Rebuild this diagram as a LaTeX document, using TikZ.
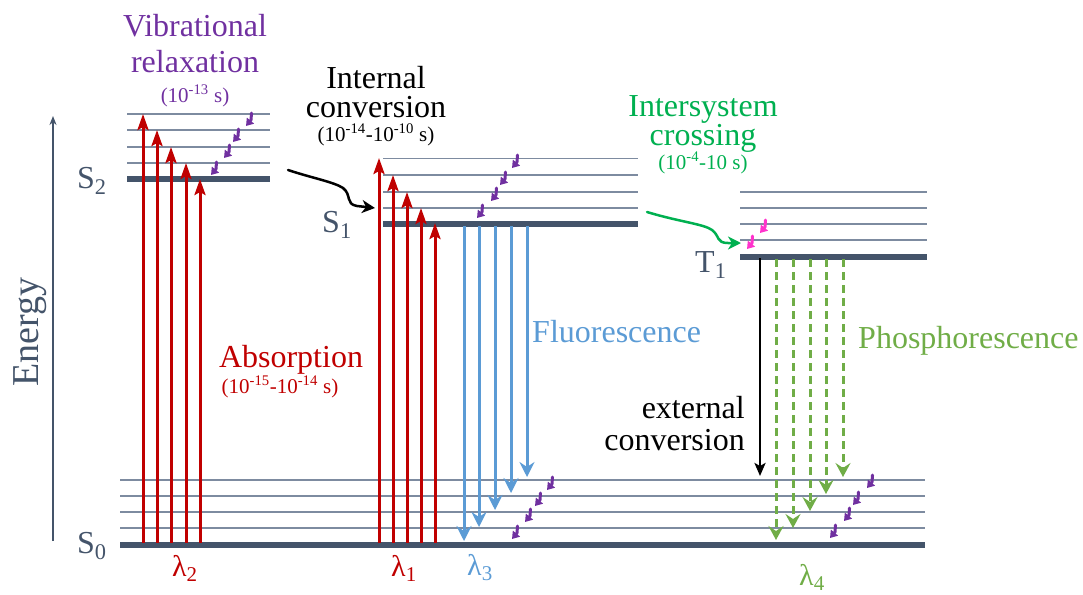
\documentclass[tikz,border=0pt]{standalone}
\usepackage{fontspec}
\setmainfont{Liberation Serif}
\newfontfamily\tnr{Liberation Serif}
\usetikzlibrary{arrows.meta}
\definecolor{lvl}{HTML}{44546A}
\definecolor{lvlthin}{HTML}{7D8BA0}
\definecolor{absred}{HTML}{C00000}
\definecolor{vibpurple}{HTML}{7030A0}
\definecolor{fluoblue}{HTML}{5B9BD5}
\definecolor{iscgreen}{HTML}{00B050}
\definecolor{phosgreen}{HTML}{70AD47}
\definecolor{pinkv}{HTML}{FF33CC}
\newcommand{\fsz}[1]{\tnr\fontsize{#1}{#1}\selectfont}
\begin{document}
\begin{tikzpicture}[x=1pt,y=-1pt,
  thicklevel/.style={lvl, line width=6pt},
  thinlevel/.style={lvlthin, line width=1.6pt},
  absarrow/.style={absred, line width=3pt, -{Stealth[length=16pt,width=11pt,inset=3pt]}},
  fluoarrow/.style={fluoblue, line width=3pt, -{Stealth[length=15pt,width=15pt,inset=5pt]}},
  phosarrow/.style={phosgreen, line width=3pt, dash pattern=on 8pt off 5pt, -{Stealth[length=14pt,width=15pt,inset=5pt]}},
  extarrow/.style={black, line width=2.5pt, -{Stealth[length=13pt,width=11pt,inset=3pt]}},
  bigtext/.style={font=\fsz{32}, inner sep=0pt, anchor=base},
  smalltext/.style={font=\fsz{21}, inner sep=0pt, anchor=base},
  statelabel/.style={font=\fsz{32}, inner sep=0pt, anchor=base west, text=lvl},
  lamlabel/.style={font=\fsz{30}, inner sep=0pt, anchor=base west},
  vib/.pic={\draw[line width=3pt, line join=round, line cap=round, -{Triangle[length=7pt,width=9pt]}] (0.5,0) -- (0,7) -- (-5,13);}
]
\useasboundingbox (0,0) rectangle (1083,594);

% Energy axis
\coordinate (ax0) at (53,541);
\coordinate (ax1) at (53,116);
\draw[lvl, line width=2pt, -{Stealth[length=9pt,width=7pt]}] (ax0) -- (ax1);
\node[rotate=90, font=\fsz{38}, text=lvl, inner sep=0pt] (energy) at (30,332) {Energy};

% Levels
\foreach \y in {114,130,147,163} \draw[thinlevel] (127,\y) -- (270,\y);
\draw[thicklevel] (127,179) -- (270,179);
\foreach \y in {158.5,175,192,208} \draw[thinlevel] (383,\y) -- (638,\y);
\draw[thicklevel] (383,224) -- (638,224);
\foreach \y in {192,208,224,240} \draw[thinlevel] (740,\y) -- (927,\y);
\draw[thicklevel] (740,256.5) -- (927,256.5);
\foreach \y in {480,496,512,528} \draw[thinlevel] (120,\y) -- (925,\y);
\draw[thicklevel] (120,545) -- (925,545);

% State labels
\node[statelabel] (s2) at (77,188) {S\textsubscript{2}};
\node[statelabel] (s1) at (322,232) {S\textsubscript{1}};
\node[statelabel] (t1) at (695,272) {T\textsubscript{1}};
\node[statelabel] (s0) at (77,553) {S\textsubscript{0}};

% Absorption arrows
\foreach \x/\y [count=\i] in {143/114,157/130,171/147,186/163,200/179}{
  \coordinate (ra\i) at (\x,543);
  \coordinate (rb\i) at (\x,\y);
  \draw[absarrow] (ra\i) -- (rb\i);
}
\foreach \x/\y [count=\i] in {379/158,393/175,407/192,421/208,435/223}{
  \coordinate (ma\i) at (\x,543);
  \coordinate (mb\i) at (\x,\y);
  \draw[absarrow] (ma\i) -- (mb\i);
}
% Fluorescence arrows
\foreach \x/\y [count=\i] in {464/541,479/527,495/510,511/493,527/477}{
  \coordinate (fa\i) at (\x,226);
  \coordinate (fb\i) at (\x,\y);
  \draw[fluoarrow] (fa\i) -- (fb\i);
}
% Phosphorescence arrows
\foreach \x/\y [count=\i] in {776/540,793/528,810/511,826/494,843/477}{
  \coordinate (pa\i) at (\x,259);
  \coordinate (pb\i) at (\x,\y);
  \draw[phosarrow] (pa\i) -- (pb\i);
}
% External conversion
\coordinate (ea) at (760,258);
\coordinate (eb) at (760,476);
\draw[extarrow] (ea) -- (eb);

% Vibrational relaxation small arrows
\foreach \x/\y in {251/113,238/129,229/145,216/162,517/155,505/172,496/188,482/205,552/477,540/493,530/509,517/526,872/475,858/492,849/508,835/525}
  \pic[color=vibpurple] at (\x,\y) {vib};
\foreach \x/\y in {765/220,752/236}
  \pic[color=pinkv] at (\x,\y) {vib};

% Internal conversion wavy arrow
\coordinate (ic0) at (288,170);
\coordinate (ic1) at (375,208);
\draw[black, line width=2.5pt, line cap=round, -{Stealth[length=13pt,width=13pt,inset=4pt]}]
  (ic0) .. controls (312,178) and (334,182) .. (343,188)
  .. controls (352,195) and (345,204) .. (357,206) -- (ic1);
% Intersystem crossing wavy arrow
\coordinate (isc0) at (647,212);
\coordinate (isc1) at (741,243);
\draw[iscgreen, line width=2.5pt, line cap=round, -{Stealth[length=13pt,width=13pt,inset=4pt]}]
  (isc0) .. controls (680,222) and (704,224) .. (712,230)
  .. controls (720,236) and (716,243) .. (728,243) -- (isc1);

% Texts
\node[bigtext, text=vibpurple] (vib1) at (195,37) {Vibrational};
\node[bigtext, text=vibpurple] (vib2) at (195,73) {relaxation};
\node[smalltext, text=vibpurple] (vib3) at (195,102) {(10\textsuperscript{-13} s)};

\node[bigtext] (ic1t) at (376,88) {Internal};
\node[bigtext] (ic2t) at (376,117) {conversion};
\node[smalltext] (ic3t) at (376,141) {(10\textsuperscript{-14}-10\textsuperscript{-10} s)};

\node[bigtext, text=iscgreen] (isc1t) at (703,116) {Intersystem};
\node[bigtext, text=iscgreen] (isc2t) at (703,145) {crossing};
\node[smalltext, text=iscgreen] (isc3t) at (703,169) {(10\textsuperscript{-4}-10 s)};

\node[bigtext, text=absred] (abs1) at (291,367) {Absorption};
\node[smalltext, text=absred] (abs2) at (280,393) {(10\textsuperscript{-15}-10\textsuperscript{-14} s)};

\node[bigtext, anchor=base west, text=fluoblue] (fluo) at (532,342) {Fluorescence};
\node[bigtext, anchor=base west, text=phosgreen] (phos) at (858,348) {Phosphorescence};

\node[bigtext, anchor=base east] (ext1) at (745,418) {external};
\node[bigtext, anchor=base east] (ext2) at (745,450) {conversion};

% Wavelength labels
\node[lamlabel, text=absred] (lam2) at (172,576) {λ\textsubscript{2}};
\node[lamlabel, text=absred] (lam1) at (391,576) {λ\textsubscript{1}};
\node[lamlabel, text=fluoblue] (lam3) at (467,575) {λ\textsubscript{3}};
\node[lamlabel, text=phosgreen] (lam4) at (799,585) {λ\textsubscript{4}};
\end{tikzpicture}
\end{document}
